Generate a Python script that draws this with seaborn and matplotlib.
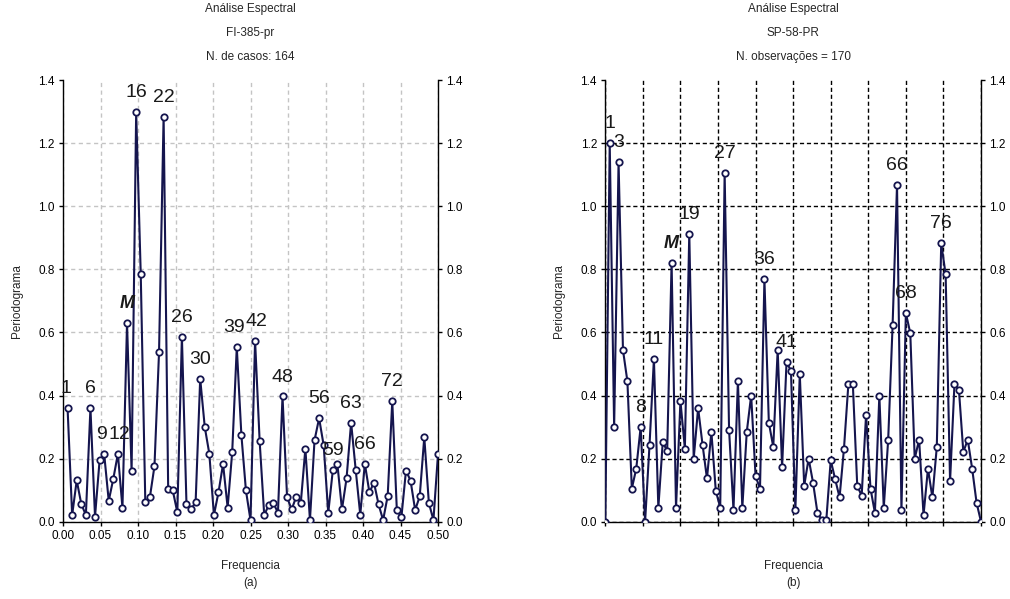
import numpy as np
import matplotlib
matplotlib.use("Agg")
import matplotlib.pyplot as plt
import seaborn as sns

# ---------------- data ----------------
n_left = 164
n_right = 170

left_k = np.arange(1, 83)
left_vals = [0.360, 0.021, 0.131, 0.056, 0.021, 0.360, 0.016, 0.194, 0.215, 0.066,
             0.136, 0.215, 0.044, 0.630, 0.161, 1.298, 0.784, 0.061, 0.078, 0.176,
             0.537, 1.284, 0.103, 0.099, 0.030, 0.586, 0.056, 0.039, 0.062, 0.453,
             0.300, 0.215, 0.021, 0.093, 0.183, 0.045, 0.221, 0.553, 0.276, 0.099,
             0.005, 0.574, 0.255, 0.021, 0.053, 0.060, 0.028, 0.397, 0.077, 0.039,
             0.079, 0.060, 0.232, 0.005, 0.258, 0.328, 0.242, 0.028, 0.163, 0.182,
             0.039, 0.137, 0.314, 0.165, 0.022, 0.184, 0.093, 0.124, 0.055, 0.005,
             0.082, 0.382, 0.036, 0.015, 0.162, 0.130, 0.037, 0.080, 0.268, 0.060,
             0.005, 0.214]

right_k = np.arange(0, 86)
right_vals = [0.000, 1.200, 0.300, 1.139, 0.544, 0.445, 0.105, 0.168, 0.300, 0.000,
              0.242, 0.516, 0.044, 0.253, 0.223, 0.821, 0.044, 0.382, 0.232, 0.913,
              0.200, 0.360, 0.244, 0.137, 0.284, 0.098, 0.045, 1.105, 0.292, 0.037,
              0.445, 0.044, 0.284, 0.400, 0.144, 0.105, 0.768, 0.314, 0.237, 0.544,
              0.174, 0.505, 0.479, 0.037, 0.468, 0.114, 0.200, 0.124, 0.028, 0.005,
              0.005, 0.195, 0.135, 0.077, 0.232, 0.437, 0.437, 0.114, 0.082, 0.339,
              0.105, 0.028, 0.400, 0.044, 0.260, 0.623, 1.068, 0.037, 0.661, 0.598,
              0.200, 0.260, 0.021, 0.168, 0.077, 0.237, 0.882, 0.784, 0.128, 0.437,
              0.419, 0.221, 0.260, 0.168, 0.060, 0.000]

left_label_k = [1, 6, 9, 12, 14, 16, 22, 26, 30, 38, 42, 48, 56, 59, 63, 66, 72]
left_label_txt = ["1", "6", "9", "12", "M", "16", "22", "26", "30", "39", "42",
                  "48", "56", "59", "63", "66", "72"]
right_label_k = [1, 3, 8, 11, 15, 19, 27, 36, 41, 66, 68, 76]
right_label_txt = ["1", "3", "8", "11", "M", "19", "27", "36", "41", "66", "68", "76"]

left_title = ["Análise Espectral", "FI-385-pr", "N. de casos: 164"]
right_title = ["Análise Espectral", "SP-58-PR", "N. observações = 170"]
xlab = "Frequencia"
ylab = "Periodograma"
panel_tags = ["(a)", "(b)"]

xticks = [0.00, 0.05, 0.10, 0.15, 0.20, 0.25, 0.30, 0.35, 0.40, 0.45, 0.50]
yticks = [0.0, 0.2, 0.4, 0.6, 0.8, 1.0, 1.2, 1.4]

# ---------------- style ----------------
sns.set_style("white")
plt.rcParams['font.family'] = ['Liberation Sans', 'DejaVu Sans']

navy = "#15154e"
W, H = 1010, 599
fig = plt.figure(figsize=(W / 100, H / 100), dpi=100)

axL = fig.add_axes([63 / W, 1 - 521.7 / H, 375 / W, 441.7 / H])
axR = fig.add_axes([605.3 / W, 1 - 521.7 / H, 375.7 / W, 441.7 / H])

# small horizontal nudges (points) for crowded labels
nudge = {"9": -2, "12": 1, "39": -2, "42": 1, "1": -1}


def draw(ax, k, vals, n, lab_k, lab_txt, title, tag, grid_color, grid_ls, show_xlabels):
    freq = np.asarray(k) / n
    sns.lineplot(x=freq, y=vals, ax=ax, estimator=None, sort=False, color=navy,
                 linewidth=1.5, marker='o', markersize=4.6, markerfacecolor='white',
                 markeredgecolor=navy, markeredgewidth=1.3, zorder=3)
    ax.set_xlim(0, 0.5)
    ax.set_ylim(0, 1.4)
    ax.set_xticks(xticks)
    ax.set_yticks(yticks)
    if show_xlabels:
        ax.set_xticklabels([f"{t:.2f}" for t in xticks])
    else:
        ax.set_xticklabels([])
    ax.set_yticklabels([f"{t:.1f}" for t in yticks])
    ax.tick_params(axis='both', direction='out', length=3, width=1, labelsize=8.5,
                   colors='black', pad=3)
    ax.tick_params(axis='y', right=True, labelright=True, left=True, labelleft=True)
    ax.tick_params(axis='x', bottom=True)
    ax.grid(True, color=grid_color, linestyle=grid_ls, linewidth=1.0)
    ax.set_axisbelow(True)
    for gl in ax.yaxis.get_gridlines():
        if gl.get_ydata()[0] >= 1.39:
            gl.set_visible(False)
    for s in ['left', 'bottom', 'right']:
        ax.spines[s].set_visible(True)
        ax.spines[s].set_color('black')
        ax.spines[s].set_linewidth(1.0)
    ax.spines['top'].set_visible(False)
    ax.set_xlabel("")
    ax.set_ylabel("")

    val_arr = np.asarray(vals)
    k_arr = list(k)
    for kk, txt in zip(lab_k, lab_txt):
        idx = k_arr.index(kk)
        dx = nudge.get(txt, 0) if show_xlabels else 0
        if txt == "M":
            ax.annotate(txt, (freq[idx], val_arr[idx]), xytext=(0, 14),
                        textcoords='offset points', ha='center', va='center',
                        fontsize=13, fontweight='bold', fontstyle='italic',
                        color='#1a1a1a', zorder=4)
        else:
            ax.annotate(txt, (freq[idx], val_arr[idx]), xytext=(dx, 14),
                        textcoords='offset points', ha='center', va='center',
                        fontsize=14, color='#1a1a1a', zorder=4)

    ax.text(0.5, 1 + (80 - 9) / 441.7, title[0], transform=ax.transAxes,
            ha='center', va='center', fontsize=8.5)
    ax.text(0.5, 1 + (80 - 33) / 441.7, title[1], transform=ax.transAxes,
            ha='center', va='center', fontsize=8.5)
    ax.text(0.5, 1 + (80 - 57) / 441.7, title[2], transform=ax.transAxes,
            ha='center', va='center', fontsize=8.5)
    ax.text(0.5, (521.7 - 566) / 441.7, xlab, transform=ax.transAxes,
            ha='center', va='center', fontsize=8.5)
    ax.text(0.5, (521.7 - 583) / 441.7, tag, transform=ax.transAxes,
            ha='center', va='center', fontsize=8.5)
    ax.text(-46 / 375, 0.5, ylab, transform=ax.transAxes, rotation=90,
            ha='center', va='center', fontsize=8.5)


draw(axL, left_k, left_vals, n_left, left_label_k, left_label_txt, left_title,
     panel_tags[0], '#c4c4c4', (0, (3, 2.5)), True)
draw(axR, right_k, right_vals, n_right, right_label_k, right_label_txt, right_title,
     panel_tags[1], 'black', (0, (3, 2)), False)

fig.savefig("out.png", dpi=100)
